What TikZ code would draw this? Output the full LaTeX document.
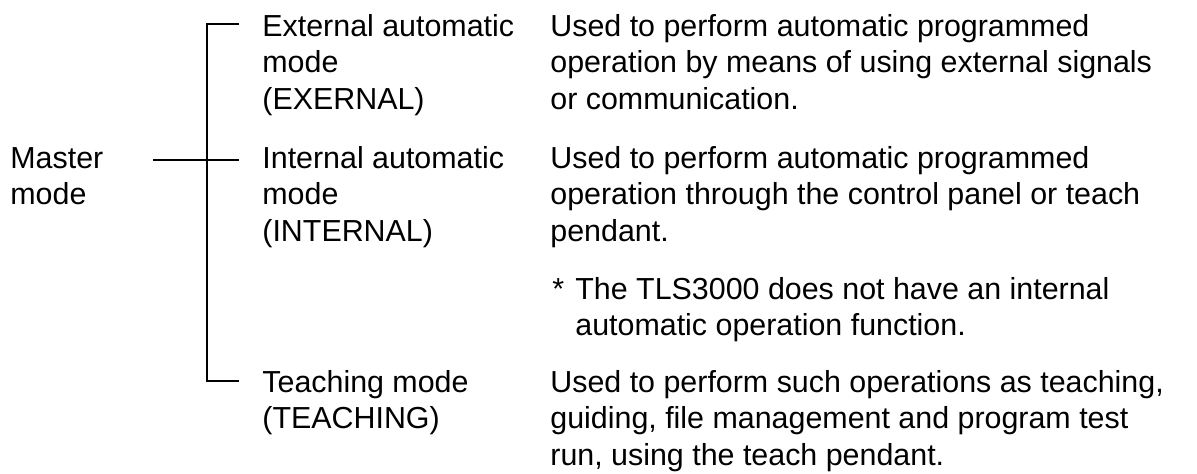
\documentclass[tikz,border=0pt]{standalone}
\usepackage{fontspec}
\setmainfont{Liberation Sans}
\usepackage{tikz}
\usetikzlibrary{positioning}

\newcommand{\modelines}[1]{\begin{tabular}[t]{@{}l@{}}#1\end{tabular}}

\tikzset{
    modetext/.style={anchor=base west, inner sep=0pt,
        font=\fontsize{15.2pt}{18.4pt}\selectfont},
    bracket/.style={line width=0.7pt}
}

\begin{document}
\begin{tikzpicture}[x=0.5pt,y=-0.5pt]
    \useasboundingbox (0,0) rectangle (1197,473);

        % Master mode
        \node[modetext] (master) at (10,168) {\modelines{Master\\mode}};

        % Modes
        \node[modetext] (ext) at (262,36) {\modelines{External automatic\\mode\\(EXERNAL)}};
        \node[modetext] (int) at (262,168) {\modelines{Internal automatic\\mode\\(INTERNAL)}};
        \node[modetext] (teach) at (262,392) {\modelines{Teaching mode\\(TEACHING)}};

        % Descriptions
        \node[modetext] (extdesc) at (550,36) {\modelines{Used to perform automatic programmed\\operation by means of using external signals\\or communication.}};
        \node[modetext] (intdesc) at (550,168) {\modelines{Used to perform automatic programmed\\operation through the control panel or teach\\pendant.}};
        \node[modetext] (star) at (552,299) {*};
        \node[modetext] (note) at (575,299) {\modelines{The TLS3000 does not have an internal\\automatic operation function.}};
        \node[modetext] (teachdesc) at (550,392) {\modelines{Used to perform such operations as teaching,\\guiding, file management and program test\\run, using the teach pendant.}};

        % Bracket
        \coordinate (mroot) at (153,160);
        \coordinate (jtop) at (207,24);
        \coordinate (jmid) at (207,160);
        \coordinate (jbot) at (207,381);
        \coordinate (etick) at (239,24);
        \coordinate (itick) at (239,160);
        \coordinate (ttick) at (239,381);
        \draw[bracket] (etick) -- (jtop) -- (jbot) -- (ttick);
        \draw[bracket] (mroot) -- (itick);
\end{tikzpicture}
\end{document}
